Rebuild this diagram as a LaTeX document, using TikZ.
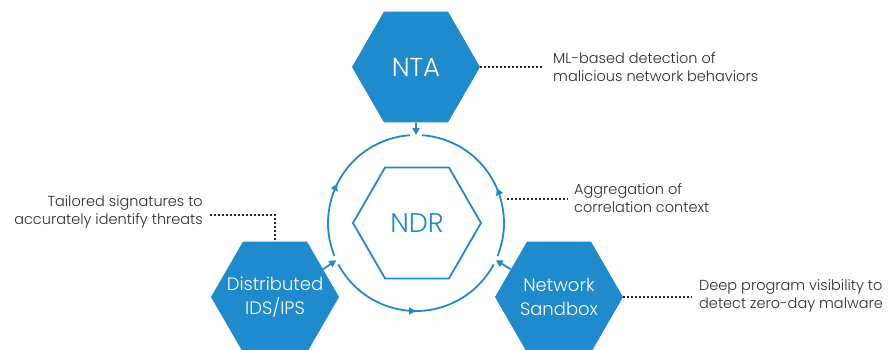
\documentclass[tikz,border=0pt]{standalone}
\usepackage{fontspec}
\setmainfont{Poppins}[UprightFont=* Light]
\usetikzlibrary{shapes.geometric,arrows.meta,decorations.markings}

\newcommand{\hexline}[1]{\makebox[0pt]{#1}}

\begin{document}
\begin{tikzpicture}[x=1pt,y=1pt]
  \definecolor{ndrblue}{RGB}{31,138,204}
  \definecolor{notegray}{RGB}{45,45,45}
  \definecolor{dotgray}{RGB}{40,40,40}

  \tikzset{
    hexa/.style={regular polygon, regular polygon sides=6, minimum size=128pt,
      inner sep=0pt, align=center},
    hexafull/.style={hexa, fill=ndrblue, draw=none, text=white,
      font=\fontsize{18}{24}\selectfont},
    flowarrow/.style={draw=ndrblue, line width=1.8pt,
      -{Triangle[length=7pt,width=7pt]}},
    arcflow/.style={draw=ndrblue, line width=1.8pt, postaction={decorate},
      decoration={markings,
        mark=at position #1 with {\arrow{Triangle[length=7pt,width=7pt]}}}},
    notetext/.style={inner sep=0pt, align=#1, text=notegray,
      font=\fontsize{14.5}{18}\selectfont},
    notedots/.style={draw=dotgray, line width=2pt, dash pattern=on 2pt off 2pt},
  }

  \useasboundingbox (0,0) rectangle (896,349);

  \pgfmathsetmacro{\ringRadius}{88};

  % Draw the hexagons first

  \node[hexafull, font=\fontsize{26}{30}\selectfont] (nta) at (416,282) {NTA};
  \node[hexafull] (dist) at (275,52)
    {\hexline{Distributed}\\\hexline{IDS/IPS}};
  \node[hexafull] (sand) at (559,52)
    {\hexline{Network}\\\hexline{Sandbox}};
  \node[hexa, draw=ndrblue, line width=1.8pt, fill=white, text=ndrblue,
    font=\fontsize{27}{30}\selectfont] (ndr) at (417,126) {NDR};

  % Then the ring around NDR

  \node[circle, minimum size=2*\ringRadius pt, inner sep=0pt, outer sep=0pt]
    (ring) at (416,126) {};

  \draw[arcflow=0.45] (ring.202) arc[start angle=202, end angle=94, radius=\ringRadius];
  \draw[arcflow=0.42] (ring.338) arc[start angle=-22, end angle=86, radius=\ringRadius];
  \draw[arcflow=0.5] (ring.208) arc[start angle=208, end angle=332, radius=\ringRadius];

  \draw[flowarrow] (nta.south) -- (ring.north);
  \draw[flowarrow] (dist.30) -- (ring.205);
  \draw[flowarrow] (sand.150) -- (ring.335);

  % Notes

  \node[notetext=left, anchor=west] (ntanote) at (553,282)
    {ML-based detection of\\malicious network behaviors};
  \node[notetext=left, anchor=west] (aggnote) at (574,151)
    {Aggregation of\\correlation context};
  \node[notetext=right, anchor=east] (tailnote) at (203,137)
    {Tailored signatures to\\accurately identify threats};
  \node[notetext=left, anchor=west] (deepnote) at (699,53)
    {Deep program visibility to\\detect zero-day malware};

  \draw[notedots, shorten >=9pt] (nta.east) -- (ntanote.west |- nta.east);
  \draw[notedots, shorten <=6pt, shorten >=6pt] (ring.16.5) -- (aggnote.west |- ring.16.5);
  \draw[notedots, shorten <=7pt] (tailnote.east |- 0,134) -| (dist.north);
  \draw[notedots, shorten >=7pt] (sand.east) -- (deepnote.west |- sand.east);
\end{tikzpicture}
\end{document}
